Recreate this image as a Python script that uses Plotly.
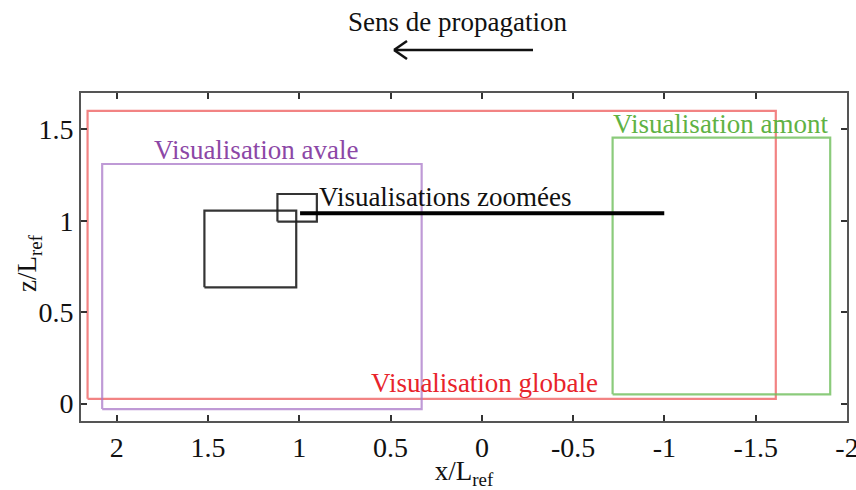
import plotly.graph_objects as go

# Visualisation windows (x/Lref, z/Lref)
rect_names = ["globale", "avale", "amont", "zoom1", "zoom2"]
rect_x_left = [2.16, 2.08, -0.716, 1.52, 1.12]
rect_x_right = [-1.61, 0.33, -1.908, 1.017, 0.904]
rect_z_bottom = [0.026, -0.03, 0.051, 0.636, 0.995]
rect_z_top = [1.60, 1.31, 1.454, 1.055, 1.146]
rect_colors = ["rgba(238,90,90,0.75)", "rgba(170,120,200,0.75)", "rgba(110,190,90,0.8)",
               "rgba(30,30,30,0.9)", "rgba(30,30,30,0.9)"]

line_x = [0.996, -0.999]
line_z = [1.04, 1.04]

labels = ["Visualisation globale", "Visualisation avale", "Visualisation amont", "Visualisations zoomées"]
label_x = [-0.015, 1.234, -1.308, 0.20]
label_z = [0.113, 1.386, 1.528, 1.13]
label_colors = ["#e8232b", "#8c47a6", "#5fb244", "#111111"]

x_ticks = [2, 1.5, 1, 0.5, 0, -0.5, -1, -1.5, -2]
x_ticktext = ["2", "1.5", "1", "0.5", "0", "-0.5", "-1", "-1.5", "-2"]
z_ticks = [0, 0.5, 1, 1.5]
z_ticktext = ["0", "0.5", "1", "1.5"]

FONT = "Liberation Serif"
FS = 27

# target plot area in window pixels: x 81..847, y 93..421 (body margin removed below)
W, H = 856, 490
L, T, R, B = 81, 93, W - 847, H - 421

fig = go.Figure()
for i, name in enumerate(rect_names):
    xl, xr, zb, zt = rect_x_left[i], rect_x_right[i], rect_z_bottom[i], rect_z_top[i]
    fig.add_trace(go.Scatter(
        x=[xl, xr, xr, xl, xl], y=[zb, zb, zt, zt, zb], mode="lines",
        line=dict(color=rect_colors[i], width=2.2), showlegend=False, hoverinfo="skip", name=name))

fig.add_trace(go.Scatter(x=line_x, y=line_z, mode="lines",
                         line=dict(color="black", width=4), showlegend=False, hoverinfo="skip"))

for t, x, z, c in zip(labels, label_x, label_z, label_colors):
    fig.add_annotation(x=x, y=z, text=t, showarrow=False, font=dict(family=FONT, size=FS, color=c),
                       xanchor="center", yanchor="middle")

# Title, y-axis title and arrow (paper coordinates)
px = lambda v: (v - 81) / (847 - 81)
py = lambda v: (421 - v) / (421 - 93)
fig.add_annotation(xref="paper", yref="paper", x=px(457), y=py(22), text="Sens de propagation",
                   showarrow=False, font=dict(family=FONT, size=FS, color="#111"),
                   xanchor="center", yanchor="middle")
fig.add_annotation(xref="paper", yref="paper", x=px(29), y=py(263), text="z/L<sub>ref</sub>",
                   showarrow=False, textangle=-90, font=dict(family=FONT, size=FS, color="#111"),
                   xanchor="center", yanchor="middle")
fig.add_shape(type="line", xref="paper", yref="paper", x0=px(533), x1=px(394), y0=py(50), y1=py(50),
              line=dict(color="#111", width=2.5))
fig.add_shape(type="line", xref="paper", yref="paper", x0=px(394), x1=px(407), y0=py(50), y1=py(41),
              line=dict(color="#111", width=2.5))
fig.add_shape(type="line", xref="paper", yref="paper", x0=px(394), x1=px(407), y0=py(50), y1=py(59),
              line=dict(color="#111", width=2.5))

axis_common = dict(showgrid=False, zeroline=False, showline=True, linecolor="#555", linewidth=2,
                   mirror="ticks", ticks="inside", ticklen=6, tickwidth=1.5, tickcolor="#333",
                   tickfont=dict(family=FONT, size=28, color="#111"), automargin=False,
                   ticklabeloverflow="allow")

fig.update_xaxes(range=[2.196, -2.0], tickvals=x_ticks, ticktext=x_ticktext,
                 title=dict(text="x/L<sub>ref</sub>", font=dict(family=FONT, size=FS, color="#111"), standoff=0),
                 **axis_common)
fig.update_yaxes(range=[-0.095, 1.698], tickvals=z_ticks, ticktext=z_ticktext, **axis_common)

fig.update_layout(width=W, height=H, margin=dict(l=L, r=R, t=T, b=B),
                  plot_bgcolor="white", paper_bgcolor="white", showlegend=False)

fig.write_html("out.html", config={"displayModeBar": False},
               post_script="document.body.style.margin='0';document.body.style.overflow='hidden';")
